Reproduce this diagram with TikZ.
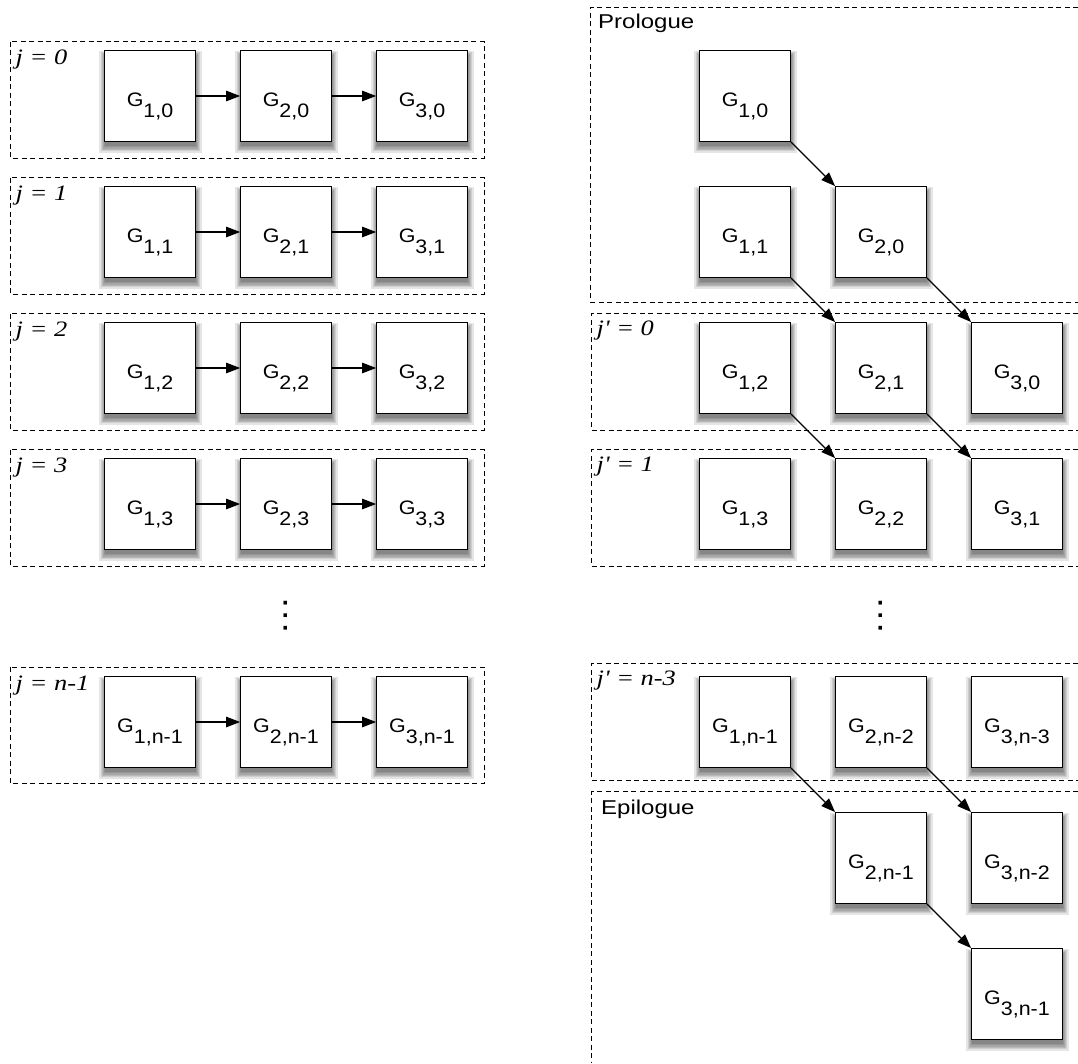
\documentclass[tikz,border=0pt]{standalone}
\usepackage{fontspec}
\setmainfont{Liberation Sans}[FakeStretch=1.1]
\newfontfamily\ttlfont{Liberation Sans}[FakeStretch=1.2]
\newfontfamily\lblfont{Liberation Serif}[FakeStretch=1.2,Ligatures=TeXOff]
\usetikzlibrary{arrows.meta,shadows}
\newcommand\Gsub[2]{G\raisebox{-11pt}{#1,#2}}
\begin{document}
\begin{tikzpicture}[x=1pt,y=-1pt,
  shlayer/.style={drop shadow={shadow xshift=0.5pt, shadow yshift=-5pt, shadow scale=#1, fill=black, draw=none, opacity=0.1}},
  gbox/.style={draw=black, line width=1.3pt, fill=white, minimum width=90.5pt, minimum height=90.5pt,
    inner sep=0pt, text height=20pt, text depth=0pt, font=\fontsize{19.5}{21}\selectfont,
    shlayer=1.13, shlayer=1.10, shlayer=1.07, shlayer=1.045, shlayer=1.02, shlayer=1.0},
  groupbox/.style={draw=black, line width=1pt, dash pattern=on 5pt off 3.5pt},
  lbl/.style={anchor=base west, inner sep=0pt, font=\lblfont\itshape\fontsize{22}{26}\selectfont},
  ttl/.style={anchor=base west, inner sep=0pt, font=\ttlfont\fontsize{20}{24}\selectfont},
  conn/.style={line width=1.1pt, -{Triangle[length=14pt,width=10.5pt]}},
  vdot/.style={rotate=90, anchor=base, inner sep=0pt, font=\ttlfont\fontsize{33}{33}\selectfont}]
\useasboundingbox (0,0) rectangle (1078,1063);

% ---------------- left column ----------------
\draw[groupbox] (10.7,41.5) rectangle (484,158);
\draw[groupbox] (10.7,177.5) rectangle (484,294);
\draw[groupbox] (10.7,313.5) rectangle (484,430);
\draw[groupbox] (10.7,449.5) rectangle (484,566);
\draw[groupbox] (10.7,667) rectangle (484,783.5);

\node[lbl] (lj0) at (15.5,64) {j = 0};
\node[lbl] (lj1) at (15.5,200) {j = 1};
\node[lbl] (lj2) at (15.5,336) {j = 2};
\node[lbl] (lj3) at (15.5,472) {j = 3};
\node[lbl] (ljn) at (15.5,690) {j = n-1};

\node[gbox] (L10) at (150,96) {\Gsub{1}{0}};
\node[gbox] (L20) at (286,96) {\Gsub{2}{0}};
\node[gbox] (L30) at (422,96) {\Gsub{3}{0}};
\node[gbox] (L11) at (150,232) {\Gsub{1}{1}};
\node[gbox] (L21) at (286,232) {\Gsub{2}{1}};
\node[gbox] (L31) at (422,232) {\Gsub{3}{1}};
\node[gbox] (L12) at (150,368) {\Gsub{1}{2}};
\node[gbox] (L22) at (286,368) {\Gsub{2}{2}};
\node[gbox] (L32) at (422,368) {\Gsub{3}{2}};
\node[gbox] (L13) at (150,504) {\Gsub{1}{3}};
\node[gbox] (L23) at (286,504) {\Gsub{2}{3}};
\node[gbox] (L33) at (422,504) {\Gsub{3}{3}};
\node[gbox] (L1n) at (150,722) {\Gsub{1}{n-1}};
\node[gbox] (L2n) at (286,722) {\Gsub{2}{n-1}};
\node[gbox] (L3n) at (422,722) {\Gsub{3}{n-1}};

\draw[conn] (L10) -- (L20); \draw[conn] (L20) -- (L30);
\draw[conn] (L11) -- (L21); \draw[conn] (L21) -- (L31);
\draw[conn] (L12) -- (L22); \draw[conn] (L22) -- (L32);
\draw[conn] (L13) -- (L23); \draw[conn] (L23) -- (L33);
\draw[conn] (L1n) -- (L2n); \draw[conn] (L2n) -- (L3n);

\node[vdot] (ldots) at (287,616) {…};

% ---------------- right column ----------------
\draw[groupbox] (1078,7.3) -- (590.5,7.3) -- (590.5,302.3) -- (1078,302.3);
\draw[groupbox] (1078,313.3) -- (591.5,313.3) -- (591.5,430) -- (1078,430);
\draw[groupbox] (1078,449.3) -- (591.5,449.3) -- (591.5,566) -- (1078,566);
\draw[groupbox] (1078,663.3) -- (591.5,663.3) -- (591.5,780) -- (1078,780);
\draw[groupbox] (1078,791.7) -- (591.5,791.7) -- (591.5,1063);

\node[ttl] (prol) at (598,28.3) {Prologue};
\node[ttl] (epil) at (601,814) {Epilogue};
\node[lbl] (rj0) at (596.5,335.5) {j' = 0};
\node[lbl] (rj1) at (596.5,471.5) {j' = 1};
\node[lbl] (rjn) at (596.5,685.5) {j' = n-3};

\node[gbox] (R10) at (745,96) {\Gsub{1}{0}};
\node[gbox] (R11) at (745,232) {\Gsub{1}{1}};
\node[gbox] (R20) at (881,232) {\Gsub{2}{0}};
\node[gbox] (R12) at (745,368) {\Gsub{1}{2}};
\node[gbox] (R21) at (881,368) {\Gsub{2}{1}};
\node[gbox] (R30) at (1017,368) {\Gsub{3}{0}};
\node[gbox] (R13) at (745,504) {\Gsub{1}{3}};
\node[gbox] (R22) at (881,504) {\Gsub{2}{2}};
\node[gbox] (R31) at (1017,504) {\Gsub{3}{1}};
\node[gbox] (R1a) at (745,722) {\Gsub{1}{n-1}};
\node[gbox] (R2b) at (881,722) {\Gsub{2}{n-2}};
\node[gbox] (R3c) at (1017,722) {\Gsub{3}{n-3}};
\node[gbox] (R2a) at (881,858) {\Gsub{2}{n-1}};
\node[gbox] (R3b) at (1017,858) {\Gsub{3}{n-2}};
\node[gbox] (R3a) at (1017,994) {\Gsub{3}{n-1}};

\draw[conn] (R10.south east) -- (R20.north west);
\draw[conn] (R11.south east) -- (R21.north west);
\draw[conn] (R20.south east) -- (R30.north west);
\draw[conn] (R12.south east) -- (R22.north west);
\draw[conn] (R21.south east) -- (R31.north west);
\draw[conn] (R1a.south east) -- (R2a.north west);
\draw[conn] (R2b.south east) -- (R3b.north west);
\draw[conn] (R2a.south east) -- (R3a.north west);

\node[vdot] (rdots) at (882,616) {…};
\end{tikzpicture}
\end{document}
